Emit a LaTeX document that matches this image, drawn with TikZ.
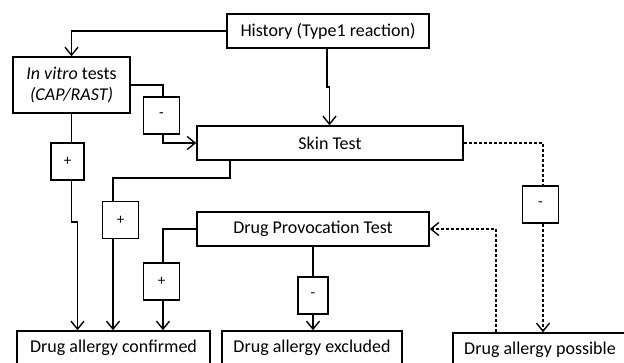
\documentclass[tikz,border=0pt]{standalone}
\usepackage{fontspec}
\setmainfont{Carlito}
\usetikzlibrary{arrows.meta}
\begin{document}
\begin{tikzpicture}[x=1pt,y=-1pt,
  box/.style={draw,line width=1.5pt,inner sep=0pt,align=center,
    font=\fontsize{18}{21}\selectfont},
  sign/.style={draw,line width=1.5pt,inner sep=0pt,minimum width=36pt,minimum height=37pt,
    font=\fontsize{15}{18}\selectfont},
  conn/.style={line width=1.4pt},
  arr/.style={conn,-{Straight Barb[length=8pt,width=13pt,line width=1.4pt]}},
  dsh/.style={dash pattern=on 3pt off 2pt}]
\useasboundingbox (0,0) rectangle (624,363);
\clip (0,0) rectangle (624,363);
% nodes
\node[box,minimum width=202pt,minimum height=34pt] (hist) at (328,31) {History (Type1 reaction)};
\node[box,minimum width=117pt,minimum height=56pt] (invitro) at (71.5,85) {\textit{In vitro} tests\\\textit{(CAP/RAST)}};
\node[sign] (m1) at (161.5,115.5) {-};
\node[box,minimum width=266pt,minimum height=34pt] (skin) at (330,143) {Skin Test};
\node[sign,minimum width=33pt] (p1) at (67.5,161.5) {+};
\node[sign] (p2) at (120.5,220) {+};
\node[box,minimum width=232pt,minimum height=34pt] (dpt) at (313,229) {Drug Provocation Test};
\node[sign] (p3) at (161.5,281.5) {+};
\node[sign,minimum width=30pt] (m2) at (313,295.5) {-};
\node[sign] (m3) at (540.5,204.5) {-};
\node[box,minimum width=193pt,minimum height=34pt] (conf) at (113.5,348) {Drug allergy confirmed};
\node[box,minimum width=180pt,minimum height=34pt] (excl) at (312,348) {Drug allergy excluded};
\node[box,minimum width=174pt,minimum height=34pt] (poss) at (540,350) {Drug allergy possible};
% routing points
\coordinate (j1) at (77.5,222);
\coordinate (j2) at (329.5,87);
\coordinate (s1) at (230,178);
\coordinate (l2) at (113,0);
\coordinate (d1) at (496,0);
% connectors
\draw[arr] (hist.west) -| (invitro.north);
\draw[conn] (invitro.east) -| ([xshift=1.5pt]m1.north);
\draw[arr] ([xshift=1.5pt]m1.south) |- (skin.west);
\draw[arr] ([xshift=-1pt]hist.south) |- (j2) -- (j2 |- skin.north);
\draw[conn] (invitro.south) -- (invitro.south |- p1.north);
\draw[arr] (invitro.south |- p1.south) |- (j1) -- (j1 |- conf.north);
\draw[conn] (skin.south -| s1) -- (s1) -| (l2 |- p2.north);
\draw[arr] (l2 |- p2.south) -- (l2 |- conf.north);
\draw[conn] (dpt.west) -| ([xshift=1.5pt]p3.north);
\draw[arr] ([xshift=1.5pt]p3.south) -- ([xshift=1.5pt]p3.south |- conf.north);
\draw[conn] (dpt.south -| m2.north) -- (m2.north);
\draw[arr] (m2.south) -- (m2.south |- excl.north);
\draw[conn,dsh] (skin.east) -| ([xshift=2.5pt]m3.north);
\draw[arr,dsh] ([xshift=2.5pt]m3.south) -- ([xshift=2.5pt]m3.south |- poss.north);
\draw[arr,dsh] (d1 |- poss.north) |- (dpt.east);
\end{tikzpicture}
\end{document}
